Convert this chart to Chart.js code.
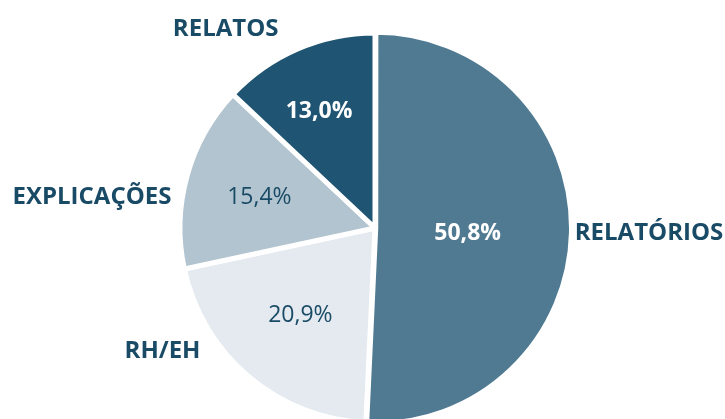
<!DOCTYPE html>
<html>
<head>
<meta charset="utf-8">
<script src="https://cdn.jsdelivr.net/npm/chart.js@4"></script>
<style>
    html, body { margin: 0; padding: 0; background: #ffffff; overflow: hidden; }
</style>
</head>
<body>
<canvas id="pie" width="725" height="456"></canvas>
<script>
var categories = ['RELATÓRIOS', 'RH/EH', 'EXPLICAÇÕES', 'RELATOS'];
var shares = [50.8, 20.9, 15.4, 13.0];
var valueLabels = ['50,8%', '20,9%', '15,4%', '13,0%'];

var sliceColors = ['#4f7a92', '#e4eaef', '#b2c4cf', '#1f5472'];
var valueColors = ['#ffffff', '#1a4b66', '#1a4b66', '#ffffff'];
var valueBold = [true, false, false, true];

// label placement, relative to each slice's mid angle and radius
var valueRadius = [0.46, 0.585, 0.615, 0.67];
var valueShift = [0.8, 0.6, -0.2, -2];
var nameRadius = [1.39, 1.256, 1.461, 1.282];
var nameShift = [-0.7, 19.9, -9, -13.3];

var FONT = '"Open Sans", sans-serif';

var labelPlugin = {
    id: 'sliceLabels',
    afterDatasetsDraw: function (chart) {
        var ctx = chart.ctx;
        var arcs = chart.getDatasetMeta(0).data;
        ctx.save();
        ctx.textAlign = 'center';
        ctx.textBaseline = 'alphabetic';
        arcs.forEach(function (arc, i) {
            var p = arc.getProps(['x', 'y', 'startAngle', 'endAngle', 'outerRadius']);
            var mid = (p.startAngle + p.endAngle) / 2;
            var off = arc.options.offset || 0;
            var cx = p.x + Math.cos(mid) * off;
            var cy = p.y + Math.sin(mid) * off;

            // value inside the slice
            var size = 23;
            var a = mid + valueShift[i] * Math.PI / 180;
            var r = p.outerRadius * valueRadius[i];
            ctx.font = (valueBold[i] ? 'bold ' : '') + size + 'px ' + FONT;
            ctx.fillStyle = valueColors[i];
            ctx.fillText(valueLabels[i], cx + Math.cos(a) * r, cy + Math.sin(a) * r + size * 0.357);

            // category outside
            size = 24;
            a = mid + nameShift[i] * Math.PI / 180;
            r = p.outerRadius * nameRadius[i];
            ctx.font = 'bold ' + size + 'px ' + FONT;
            ctx.fillStyle = '#1a4b66';
            ctx.fillText(categories[i], cx + Math.cos(a) * r, cy + Math.sin(a) * r + size * 0.357);
        });
        ctx.restore();
    }
};

new Chart(document.getElementById('pie'), {
    type: 'pie',
    data: {
        labels: categories,
        datasets: [{
            data: shares,
            backgroundColor: sliceColors,
            borderColor: '#ffffff',
            borderWidth: 5,
            offset: [3, 0, 0, 0]
        }]
    },
    options: {
        responsive: false,
        animation: false,
        devicePixelRatio: 1,
        radius: 195,
        layout: { padding: { left: 25 } },
        plugins: {
            legend: { display: false },
            tooltip: { enabled: false }
        }
    },
    plugins: [labelPlugin]
});
</script>
</body>
</html>
